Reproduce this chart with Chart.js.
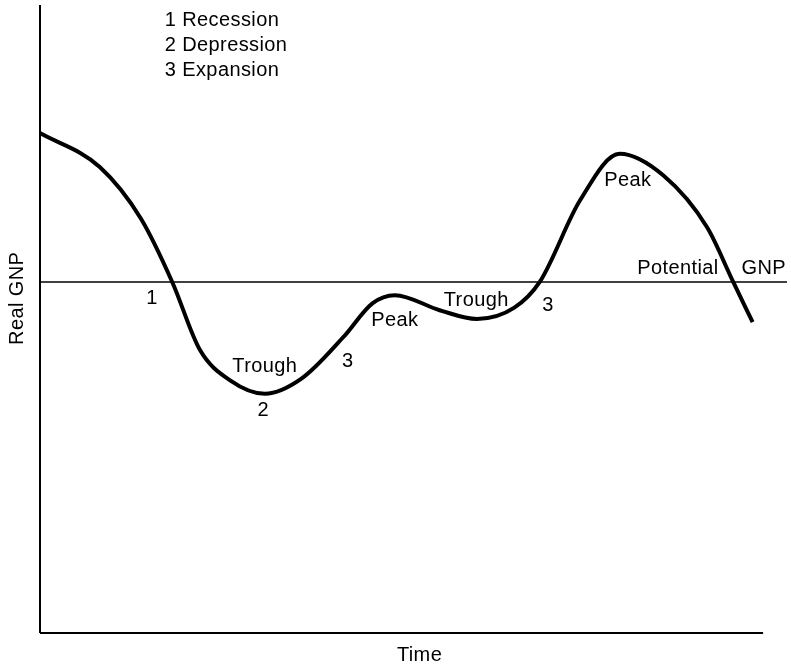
<!DOCTYPE html>
<html>
<head>
<meta charset="utf-8">
<script src="https://cdn.jsdelivr.net/npm/chart.js@4/dist/chart.umd.min.js"></script>
<style>
  body { margin: 0; background: #fff; }
</style>
</head>
<body>
<canvas id="cycleChart" width="791" height="667"></canvas>
<script>
// business cycle curve (time, real GNP)
const timeValues = [0, 8.0, 13.5, 17.7, 21.4, 25.5, 30.1, 35.0, 40.6, 44.5, 47.5, 53.5, 58.5, 63.5, 66.9, 72.3, 77.6, 83.5, 89.3, 92.8, 95.4];
const gnpValues = [79.6, 74.2, 66.0, 55.9, 45.1, 40.2, 38.1, 40.5, 47.1, 52.5, 53.8, 51.4, 50.0, 51.8, 55.9, 68.9, 76.3, 72.8, 64.6, 55.9, 49.5];
const potentialGnp = 55.9;
const timeEnd = 96.8;

// annotations: text, time, gnp, align
const noteTexts = ['1 Recession', '2 Depression', '3 Expansion', '1', 'Trough', '2', '3', 'Peak', 'Trough', '3', 'Peak', 'Potential', 'GNP'];
const noteTimes = [16.7, 16.7, 16.7, 15.0, 30.1, 29.9, 41.2, 47.5, 58.4, 68.0, 78.7, 85.4, 96.9];
const noteGnps = [97.6, 93.6, 89.6, 53.3, 42.5, 35.4, 43.3, 49.7, 53.0, 52.2, 72.0, 58.1, 58.1];
const noteAligns = ['left', 'left', 'left', 'center', 'center', 'center', 'center', 'center', 'center', 'center', 'center', 'center', 'center'];

const FONT = '20px "Liberation Sans", Arial, sans-serif';

const textPlugin = {
  id: 'textPlugin',
  afterDatasetsDraw(chart) {
    const ctx = chart.ctx;
    const xs = chart.scales.x, ys = chart.scales.y;
    const area = chart.chartArea;
    ctx.save();
    ctx.fillStyle = '#000';
    ctx.font = FONT;
    ctx.letterSpacing = '0.4px';
    ctx.textBaseline = 'middle';
    noteTexts.forEach((t, i) => {
      ctx.textAlign = noteAligns[i];
      ctx.fillText(t, xs.getPixelForValue(noteTimes[i]), ys.getPixelForValue(noteGnps[i]));
    });
    // axis titles
    ctx.textAlign = 'center';
    ctx.fillText('Time', (area.left + xs.getPixelForValue(timeEnd)) / 2 + 18, area.bottom + 22);
    ctx.translate(area.left - 23, ys.getPixelForValue(53.3));
    ctx.rotate(-Math.PI / 2);
    ctx.fillText('Real GNP', 0, 0);
    ctx.restore();
  }
};

const ctx = document.getElementById('cycleChart').getContext('2d');
const cycleChart = new Chart(ctx, {
  type: 'line',
  data: {
    datasets: [
      {
        label: 'Real GNP',
        data: timeValues.map((t, i) => ({ x: t, y: gnpValues[i] })),
        borderColor: '#000',
        borderWidth: 4,
        pointRadius: 0,
        cubicInterpolationMode: 'monotone',
        fill: false
      },
      {
        label: 'Potential GNP',
        data: [{ x: 0, y: potentialGnp }, { x: 100, y: potentialGnp }],
        borderColor: '#000',
        borderWidth: 1.5,
        pointRadius: 0
      },
      {
        label: 'x axis',
        data: [{ x: 0, y: 0 }, { x: timeEnd, y: 0 }],
        borderColor: '#000',
        borderWidth: 2,
        pointRadius: 0
      },
      {
        label: 'y axis',
        data: [{ x: 0, y: 0 }, { x: 0, y: 100 }],
        borderColor: '#000',
        borderWidth: 2,
        pointRadius: 0
      }
    ]
  },
  options: {
    responsive: false,
    animation: false,
    layout: { padding: { left: 40, top: 5, right: 4, bottom: 34 } },
    plugins: { legend: { display: false }, tooltip: { enabled: false } },
    scales: {
      x: { type: 'linear', min: 0, max: 100, display: false },
      y: { type: 'linear', min: 0, max: 100, display: false }
    },
    clip: false
  },
  plugins: [textPlugin]
});
</script>
</body>
</html>
